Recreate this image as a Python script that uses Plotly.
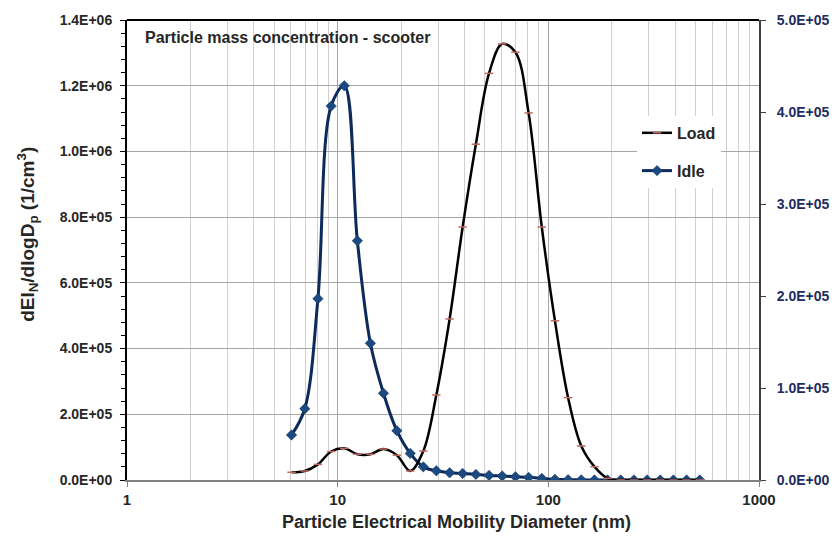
import plotly.graph_objects as go

# Particle size distribution (electrical mobility diameter, nm)
diameter_nm = [6.04, 6.98, 8.06, 9.31, 10.75, 12.4, 14.3, 16.5, 19.1, 22.1,
               25.5, 29.4, 34.0, 39.2, 45.3, 52.3, 60.4, 69.8, 80.6, 93.1,
               107.5, 124.1, 143.3, 165.5, 191.1, 220.7, 254.8, 294.3, 339.8,
               392.4, 453.2, 523.3]

# Idle mode, left axis
idle = [1.37e5, 2.17e5, 5.52e5, 1.138e6, 1.20e6, 7.28e5, 4.16e5, 2.64e5,
        1.50e5, 8.1e4, 4.0e4, 2.8e4, 2.2e4, 2.0e4, 1.7e4, 1.4e4, 1.2e4,
        1.0e4, 8.0e3, 5.0e3, 2.0e3, 1.0e3, 500, 300, 200, 100, 100, 100,
        50, 50, 50, 50]

# Load mode, right axis
load = [8.4e3, 9.8e3, 1.7e4, 3.1e4, 3.45e4, 2.8e4, 2.8e4, 3.37e4, 2.7e4,
        9.8e3, 3.15e4, 9.24e4, 1.75e5, 2.75e5, 3.65e5, 4.42e5, 4.74e5,
        4.65e5, 3.99e5, 2.75e5, 1.73e5, 8.95e4, 3.7e4, 1.45e4, 1.8e3, 0,
        0, 0, 0, 0, 0, 0]

x_tickvals = [1, 10, 100, 1000]
x_ticktext = ["1", "10", "100", "1000"]
left_tickvals = [0, 2e5, 4e5, 6e5, 8e5, 1.0e6, 1.2e6, 1.4e6]
left_ticktext = ["0.0E+00", "2.0E+05", "4.0E+05", "6.0E+05", "8.0E+05",
                 "1.0E+06", "1.2E+06", "1.4E+06"]
right_tickvals = [0, 1e5, 2e5, 3e5, 4e5, 5e5]
right_ticktext = ["0.0E+00", "1.0E+05", "2.0E+05", "3.0E+05", "4.0E+05",
                  "5.0E+05"]

FONT = "Liberation Sans, Arial, sans-serif"
NAVY = "#0c2a5c"
RIGHT_LABEL = "#1c2d5e"
TEXT = "#262626"

fig = go.Figure()

fig.add_trace(go.Scatter(
    x=diameter_nm, y=load, name="Load", yaxis="y2",
    mode="lines+markers", legendgroup="load",
    line=dict(color="black", width=2.5, shape="spline", smoothing=1),
    marker=dict(symbol="line-ew", size=6,
                line=dict(color="#c06a60", width=1.5)),
))

fig.add_trace(go.Scatter(
    x=diameter_nm, y=idle, name="Idle", yaxis="y",
    mode="lines+markers", legendgroup="idle",
    line=dict(color=NAVY, width=3, shape="spline", smoothing=1),
    marker=dict(symbol="diamond", size=8, color="#1b4a80",
                line=dict(color=NAVY, width=0.5)),
))

fig.update_layout(
    width=835, height=539,
    margin=dict(l=127, r=76, t=20, b=59, autoexpand=False),
    paper_bgcolor="white", plot_bgcolor="white",
    font=dict(family=FONT, size=14, color=TEXT),
    showlegend=True,
    legend=dict(
        x=0.807, y=0.7915, xanchor="left", yanchor="top",
        bgcolor="white", borderwidth=0,
        font=dict(family=FONT, size=16, color=TEXT, weight="bold"),
        traceorder="grouped", tracegroupgap=14, itemwidth=30,
    ),
    xaxis=dict(
        type="log", range=[0, 3], automargin=False,
        tickvals=x_tickvals, ticktext=x_ticktext,
        ticks="outside", ticklen=5, tickcolor="#808080",
        tickfont=dict(family=FONT, size=15, color=TEXT, weight="bold"),
        showgrid=True, gridcolor="#a6a6a6", gridwidth=1,
        minor=dict(dtick="D1", showgrid=True, gridcolor="#cfcfcf",
                   gridwidth=1, ticks=""),
        showline=True, linecolor="#808080", linewidth=2,
        zeroline=False,
    ),
    yaxis=dict(
        range=[0, 1.4e6], automargin=False,
        tickvals=left_tickvals, ticktext=left_ticktext,
        ticks="outside", ticklen=5, tickcolor="black",
        tickfont=dict(family=FONT, size=14, color=TEXT, weight="bold"),
        ticklabelstandoff=5,
        minor=dict(dtick=4e4, ticks="outside", ticklen=4,
                   tickcolor="black", showgrid=False),
        showgrid=True, gridcolor="#a6a6a6", gridwidth=1,
        showline=True, linecolor="black", linewidth=2,
        zeroline=False,
    ),
    yaxis2=dict(
        overlaying="y", side="right", automargin=False,
        range=[0, 5e5],
        tickvals=right_tickvals, ticktext=right_ticktext,
        ticks="outside", ticklen=5, tickcolor="#404040",
        tickfont=dict(family=FONT, size=14, color=RIGHT_LABEL,
                      weight="bold"),
        ticklabelstandoff=8,
        showgrid=False, zeroline=False,
        showline=True, linecolor="#404040", linewidth=2,
    ),
)

# White panel behind the chart caption, hiding the grid there
fig.add_shape(type="rect", xref="paper", yref="paper",
              x0=0.0, x1=0.574, y0=0.924, y1=1.0,
              fillcolor="white", line=dict(width=0), layer="between")

# Top border of the plot area
fig.add_shape(type="line", xref="paper", yref="paper",
              x0=0, x1=1, y0=1, y1=1,
              line=dict(color="black", width=2), layer="above")

fig.add_annotation(
    text="Particle mass concentration - scooter",
    xref="paper", yref="paper", x=0.026, y=0.961,
    xanchor="left", yanchor="middle", showarrow=False,
    font=dict(family=FONT, size=16, color=TEXT, weight="bold"),
)

# Axis titles
fig.add_annotation(
    text="Particle Electrical Mobility Diameter (nm)",
    xref="paper", yref="paper", x=0.5206, y=-0.0913,
    xanchor="center", yanchor="middle", showarrow=False,
    font=dict(family=FONT, size=18, color=TEXT, weight="bold"),
)
fig.add_annotation(
    text="dEI<sub>N</sub>/dlogD<sub>p</sub> (1/cm<sup>3</sup>)",
    xref="paper", yref="paper", x=-0.1566, y=0.533,
    xanchor="center", yanchor="middle", showarrow=False, textangle=-90,
    font=dict(family=FONT, size=19, color=TEXT, weight="bold"),
)

fig.write_html("out.html")
